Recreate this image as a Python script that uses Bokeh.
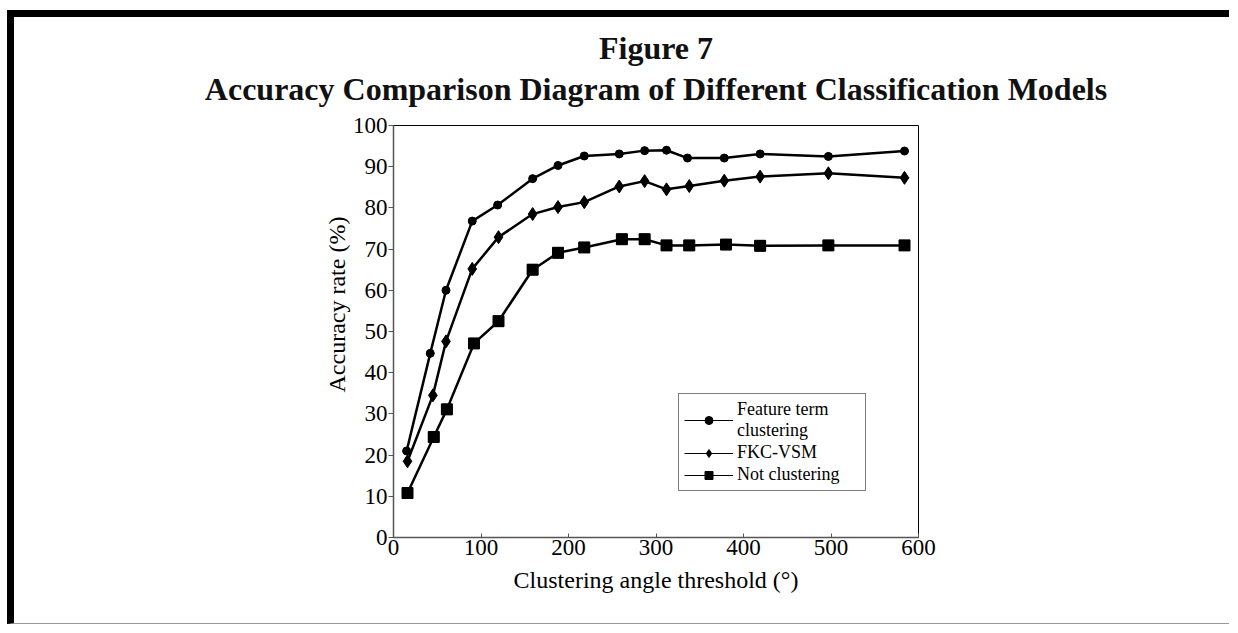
from bokeh.plotting import figure
from bokeh.models import Title, Legend, LegendItem, FixedTicker
from bokeh.embed import file_html
from bokeh.resources import INLINE

# ---- data ----
feat_x = [15, 42, 60, 90, 119, 159, 188, 218, 258, 287, 312, 336, 378, 419, 497, 584]
feat_y = [21.0, 44.7, 60.0, 76.8, 80.7, 87.1, 90.3, 92.6, 93.1, 93.9, 94.0, 92.1, 92.1, 93.1, 92.5, 93.8]
fkc_x = [16, 45, 60, 90, 120, 159, 188, 218, 258, 287, 312, 338, 378, 419, 497, 584]
fkc_y = [18.5, 34.5, 47.6, 65.2, 72.9, 78.5, 80.2, 81.4, 85.2, 86.5, 84.5, 85.3, 86.6, 87.6, 88.4, 87.3]
not_x = [16, 46, 61, 92, 120, 159, 188, 218, 261, 287, 312, 338, 380, 419, 497, 584]
not_y = [10.8, 24.4, 31.1, 47.1, 52.5, 65.0, 69.1, 70.4, 72.4, 72.4, 70.9, 70.9, 71.1, 70.8, 70.9, 70.9]
series_names = ["Feature term\nclustering", "FKC-VSM", "Not clustering"]
x_ticks = [0, 100, 200, 300, 400, 500, 600]
y_ticks = [0, 10, 20, 30, 40, 50, 60, 70, 80, 90, 100]
title_1 = "Figure 7"
title_2 = "Accuracy Comparison Diagram of Different Classification Models"
x_label = "Clustering angle threshold (°)"
y_label = "Accuracy rate (%)"

FONT = "Liberation Serif"
W, H = 1222, 614

p = figure(width=W, height=H, output_backend="svg", toolbar_location=None,
           x_range=(0, 600), y_range=(0, 100),
           min_border_left=379, min_border_right=318,
           min_border_top=108, min_border_bottom=94)
p.title.visible = False
p.grid.visible = False
p.outline_line_color = "black"
p.outline_line_width = 1
p.background_fill_color = "white"
p.border_fill_color = "white"
p.styles = {"border-top": "7px solid black", "border-left": "7px solid black",
            "border-bottom": "1px solid #999999", "margin-top": "10px",
            "margin-left": "7px"}

# axes
p.xaxis.ticker = FixedTicker(ticks=x_ticks)
p.yaxis.ticker = FixedTicker(ticks=y_ticks)
for ax in (p.xaxis, p.yaxis):
    ax.minor_tick_line_color = None
    ax.axis_line_color = "#555555"
    ax.axis_line_width = 1.5
    ax.major_tick_line_color = "#555555"
    ax.major_tick_line_width = 1
    ax.major_label_text_font = FONT
    ax.major_label_text_font_size = "23px"
    ax.major_label_text_color = "black"
    ax.axis_label_text_font = FONT
    ax.axis_label_text_font_size = "24px"
    ax.axis_label_text_font_style = "normal"
    ax.axis_label_text_color = "black"
p.xaxis.major_tick_in = 4
p.xaxis.major_tick_out = 0
p.xaxis.major_label_standoff = 2
p.xaxis.axis_label = x_label
p.xaxis.axis_label_standoff = 9
p.yaxis.major_tick_in = 0
p.yaxis.major_tick_out = 5
p.yaxis.major_label_standoff = 1

# thin legend renderers, drawn beneath (and hidden by) the thick plot marks
leg_specs = [(feat_x, feat_y, "circle", 7), (fkc_x, fkc_y, "diamond", 10), (not_x, not_y, "square", 10)]
leg_items = []
for name, (xs, ys, mk, sz) in zip(series_names, leg_specs):
    ll = p.line(xs, ys, line_color="black", line_width=1)
    mm = p.scatter(xs, ys, marker=mk, size=sz, color="black")
    leg_items.append(LegendItem(label=name, renderers=[ll, mm]))

# series
p.line(feat_x, feat_y, line_color="black", line_width=2.5)
p.scatter(feat_x, feat_y, marker="circle", size=8, color="black")
p.line(fkc_x, fkc_y, line_color="black", line_width=2.5)
p.scatter(fkc_x, fkc_y, marker="diamond", size=13, color="black")
p.line(not_x, not_y, line_color="black", line_width=2.5)
p.scatter(not_x, not_y, marker="square", size=11, color="black")

legend = Legend(items=leg_items, location=(285, 46))
legend.label_text_font = FONT
legend.label_text_font_size = "18px"
legend.label_text_color = "black"
legend.label_text_line_height = 0.8
legend.glyph_width = 49
legend.glyph_height = 20
legend.label_standoff = 4
legend.label_width = 123
legend.padding = 5
legend.spacing = 1
legend.margin = 0
legend.border_line_color = "black"
legend.border_line_width = 1
legend.background_fill_color = "white"
legend.background_fill_alpha = 1
p.add_layout(legend, "center")

# y-axis label as a left-side title, shifted up as in the reference
p.add_layout(Title(text=y_label, align="left", offset=145, standoff=0,
                   text_font=FONT, text_font_size="24px", text_font_style="normal",
                   text_color="black"), "left")

# titles (first added sits nearest the frame)
p.add_layout(Title(text=title_2, align="center", standoff=38,
                   text_font=FONT, text_font_size="32px", text_font_style="bold",
                   text_line_height=1.0, text_color="#111111"), "above")
p.add_layout(Title(text=title_1, align="center", standoff=-33,
                   text_font=FONT, text_font_size="32px", text_font_style="bold",
                   text_line_height=1.0, text_color="#111111"), "above")

open("out.html", "w").write(file_html(p, INLINE))
